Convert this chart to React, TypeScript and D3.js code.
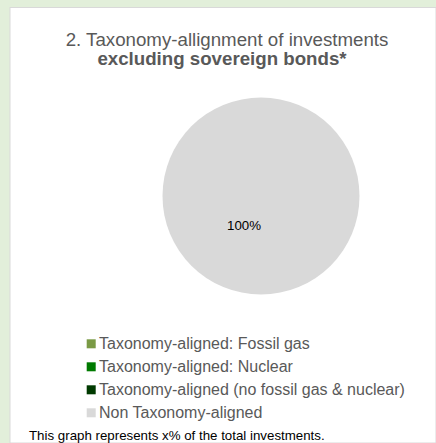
import React from "react";
import * as d3 from "d3";

const categories = [
  "Taxonomy-aligned: Fossil gas",
  "Taxonomy-aligned: Nuclear",
  "Taxonomy-aligned (no fossil gas & nuclear)",
  "Non Taxonomy-aligned",
];
const values = [0, 0, 0, 100];
const colors = ["#7a9a45", "#007a00", "#003a00", "#d9d9d9"];
const titleLine1 = "2. Taxonomy-allignment of investments";
const titleLine2 = "excluding sovereign bonds*";
const footnote = "This graph represents x% of the total investments.";

const W = 436;
const H = 443;
const FONT = "'Liberation Sans', Arial, sans-serif";

export default function App() {
  const cx = 261;
  const cy = 196;
  const r = 98.5;
  const data = categories.map((c, i) => ({ c, v: values[i], color: colors[i] }));
  const pie = d3.pie<any>().value((d: any) => d.v).sort(null);
  const arcs = pie(data);
  const arc = d3.arc<any>().innerRadius(0).outerRadius(r);
  const labelArc = d3.arc<any>().innerRadius(r * 0.3).outerRadius(r * 0.3);
  const total = d3.sum(values);
  const fmt = (v: number) => `${Math.round((v / total) * 100)}%`;

  return (
    <div style={{ position: "absolute", left: 0, top: 0 }}>
      <svg width={W} height={H} style={{ display: "block" }}>
        <rect x={0} y={0} width={W} height={H} fill="#e2efda" />
        <rect x={10} y={7.5} width={W - 10} height={H - 7.5} fill="#ffffff" stroke="#d9d9d9" strokeWidth={1} />
        <text x={227} y={46} textAnchor="middle" fontFamily={FONT} fontSize={18.7} fill="#595959">
          {titleLine1}
        </text>
        <text x={222} y={65} textAnchor="middle" fontFamily={FONT} fontSize={18.7} fontWeight="bold" fill="#595959">
          {titleLine2}
        </text>
        <g transform={`translate(${cx},${cy})`}>
          {arcs.map((a, i) =>
            a.data.v > 0 ? <path key={i} d={arc(a) as string} fill={a.data.color} /> : null
          )}
          {arcs.map((a, i) => {
            if (a.data.v <= 0) return null;
            const [lx, ly] = labelArc.centroid(a);
            return (
              <text key={"l" + i} x={lx} y={ly} dx={-17} dy="0.35em" textAnchor="middle" fontFamily={FONT} fontSize={13.3} fill="#000">
                {fmt(a.data.v)}
              </text>
            );
          })}
        </g>
        <g>
          {categories.map((c, i) => (
            <g key={c} transform={`translate(86.7,${343.8 + i * 23})`}>
              <rect x={0} y={-4.5} width={9} height={9} fill={colors[i]} />
              <text x={12.3} y={0} dy="0.35em" fontFamily={FONT} fontSize={16} fill="#595959">
                {c}
              </text>
            </g>
          ))}
        </g>
        <text x={29} y={440} fontFamily={FONT} fontSize={13.3} fill="#000">
          {footnote}
        </text>
      </svg>
    </div>
  );
}
